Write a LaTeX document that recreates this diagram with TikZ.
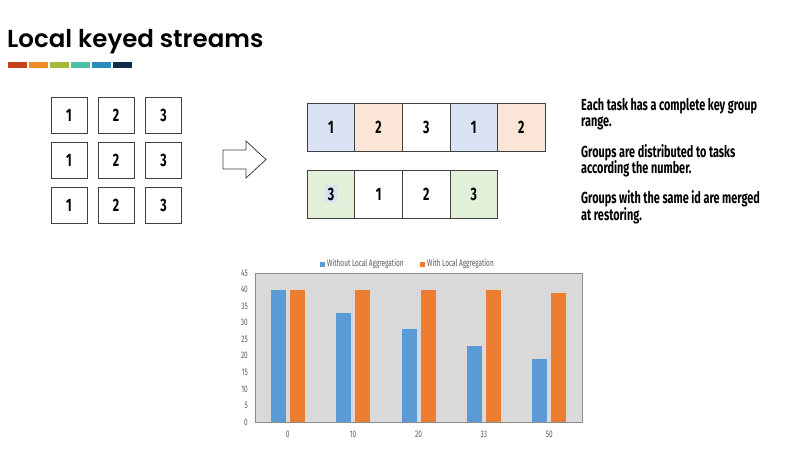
\documentclass[tikz,border=0pt]{standalone}
\usepackage{fontspec}
\newfontfamily\titlefont{Poppins}[UprightFont={* SemiBold}]
\newfontfamily\condfont{Fira Sans}[FakeStretch=0.68]
\definecolor{cA}{HTML}{C8401C}
\definecolor{cB}{HTML}{F08C2A}
\definecolor{cC}{HTML}{A5B83A}
\definecolor{cD}{HTML}{4DBFA6}
\definecolor{cE}{HTML}{2A8BBF}
\definecolor{cF}{HTML}{0E2D4E}
\definecolor{fBlue}{HTML}{DAE3F3}
\definecolor{fPeach}{HTML}{FBE5D6}
\definecolor{fGreen}{HTML}{E2F0D9}
\definecolor{edge}{HTML}{404040}
\definecolor{plotbg}{HTML}{D9D9D9}
\definecolor{plotedge}{HTML}{8C8C8C}
\definecolor{barBlue}{HTML}{5B9BD5}
\definecolor{barOrange}{HTML}{ED7D31}
\definecolor{axtext}{HTML}{595959}
\begin{document}
\begin{tikzpicture}[x=1pt,y=-1pt,
  keybox/.style={draw=edge,line width=0.8pt,minimum width=36pt,minimum height=36pt,inner sep=0pt,
     font=\condfont\bfseries\fontsize{18}{18}\selectfont},
  cell/.style={draw=edge,line width=0.8pt,minimum width=47.6pt,minimum height=48pt,inner sep=0pt,
     font=\condfont\bfseries\fontsize{18}{18}\selectfont},
  desc/.style={anchor=base west,inner sep=0pt,font=\condfont\bfseries\fontsize{16}{16}\selectfont},
  axlab/.style={inner sep=0pt,text=axtext,font=\condfont\fontsize{9.5}{9.5}\selectfont},
  swatch/.style={minimum width=19pt,minimum height=6pt,inner sep=0pt,anchor=west}
]
\useasboundingbox (0,0) rectangle (800,449);
\fill[white] (0,0) rectangle (800,449);
% title
\node[anchor=base west,inner sep=0pt,font=\titlefont\fontsize{24.5}{24.5}\selectfont] (title) at (7,48) {Local keyed streams};
\node[swatch,fill=cA] (s1) at (8,65) {};
\node[swatch,fill=cB] (s2) at (29,65) {};
\node[swatch,fill=cC] (s3) at (50,65) {};
\node[swatch,fill=cD] (s4) at (71,65) {};
\node[swatch,fill=cE] (s5) at (92,65) {};
\node[swatch,fill=cF] (s6) at (113,65) {};
% grid of key boxes
\foreach \r/\yy in {1/115,2/160,3/205}{
  \node[keybox] (g\r a) at (69,\yy) {1};
  \node[keybox] (g\r b) at (116,\yy) {2};
  \node[keybox] (g\r c) at (163.5,\yy) {3};
}
% hollow arrow
\draw[edge,line width=0.8pt,fill=white] (223,150) -- (246,150) -- (246,141) -- (266,159.5) -- (246,178) -- (246,169) -- (223,169) -- cycle;
% top row
\node[cell,fill=fBlue]  (r1a) at (331,127) {1};
\node[cell,fill=fPeach] (r1b) at (378.6,127) {2};
\node[cell,fill=white]  (r1c) at (426.2,127) {3};
\node[cell,fill=fBlue]  (r1d) at (473.8,127) {1};
\node[cell,fill=fPeach] (r1e) at (521.4,127) {2};
% bottom row
\node[cell,fill=fGreen] (r2a) at (331,194) {};
\fill[fBlue] (325,185) rectangle (337,202);
\node[inner sep=0pt,font=\condfont\bfseries\fontsize{18}{18}\selectfont] (r2at) at (r2a.center) {3};
\node[cell,fill=white]  (r2b) at (378.6,194) {1};
\node[cell,fill=white]  (r2c) at (426.2,194) {2};
\node[cell,fill=fGreen] (r2d) at (473.8,194) {3};
% description
\node[desc] (t1) at (581,111) {Each task has a complete key group};
\node[desc] (t2) at (581,127) {range.};
\node[desc] (t3) at (581,158) {Groups are distributed to tasks};
\node[desc] (t4) at (581,174) {according the number.};
\node[desc] (t5) at (581,204) {Groups with the same id are merged};
\node[desc] (t6) at (581,220) {at restoring.};
% chart
\draw[plotedge,fill=plotbg,line width=0.6pt] (255,273) rectangle (582,422);
\foreach \v in {0,5,...,45}{
  \node[axlab,anchor=east] (yl\v) at (248,{422-\v*3.311}) {\v};
}
\foreach \i/\lab/\b/\o in {0/0/40/40,1/10/33/40,2/20/28/40,3/33/23/40,4/50/19/39}{
  \pgfmathsetmacro{\c}{255+65.4*(\i+0.5)}
  \fill[barBlue] (\c-17,422) rectangle (\c-2,{422-\b*3.311});
  \fill[barOrange] (\c+2,422) rectangle (\c+17,{422-\o*3.311});
  \node[axlab] (xl\i) at (\c,434) {\lab};
}
\draw[plotedge,line width=0.6pt] (255,422) -- (582,422);
% legend
\fill[barBlue] (320,261.5) rectangle (325,266.5);
\node[axlab,anchor=west] (leg1) at (327,264) {Without Local Aggregation};
\fill[barOrange] (420,261.5) rectangle (425,266.5);
\node[axlab,anchor=west] (leg2) at (427,264) {With Local Aggregation};
\end{tikzpicture}
\end{document}
